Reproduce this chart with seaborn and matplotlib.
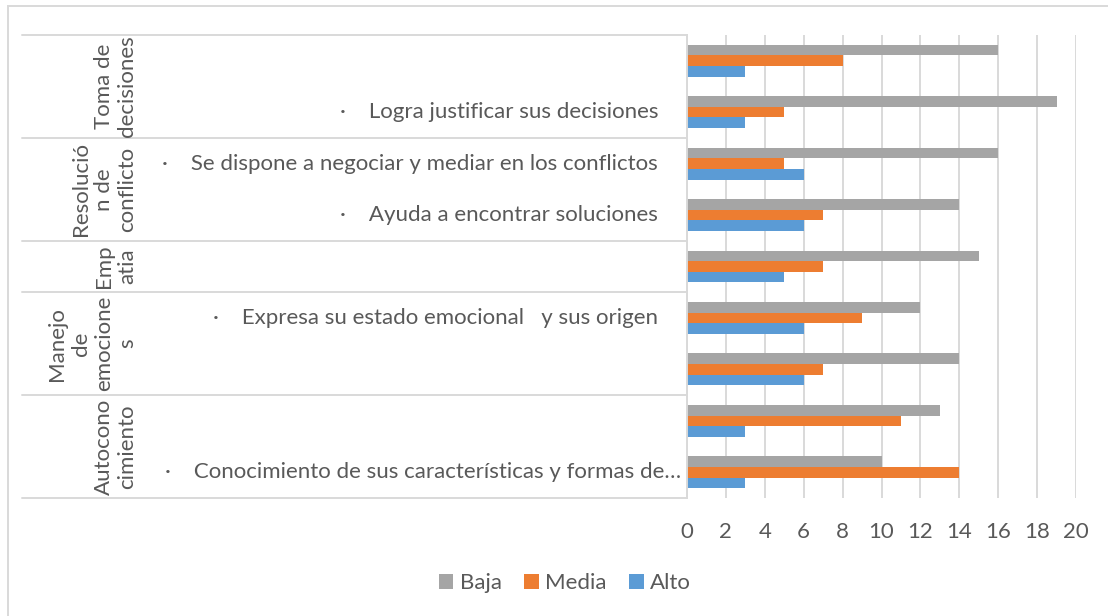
import pandas as pd
import matplotlib.pyplot as plt
import matplotlib.transforms as mtransforms
from matplotlib.patches import Rectangle
import seaborn as sns

# chart data, rows from top to bottom
grupos = ['Toma de decisiones', 'Toma de decisiones',
          'Resolución de conflicto', 'Resolución de conflicto',
          'Empatia',
          'Manejo de emociones', 'Manejo de emociones',
          'Autoconocimiento', 'Autoconocimiento']
items = ['',
         'Logra justificar sus decisiones',
         'Se dispone a negociar y mediar en los conflictos',
         'Ayuda a encontrar soluciones',
         '',
         'Expresa su estado emocional   y sus origen',
         '',
         '',
         'Conocimiento de sus características y formas de…']
baja = [16, 19, 16, 14, 15, 12, 14, 13, 10]
media = [8, 5, 5, 7, 7, 9, 7, 11, 14]
alto = [3, 3, 6, 6, 5, 6, 6, 3, 3]
series = ['Baja', 'Media', 'Alto']
colores = ['#A5A5A5', '#ED7D31', '#5B9BD5']

# rotated group labels, split the way the original wraps them
grupo_labels = [('Toma de\ndecisiones', 0, 1),
                ('Resolució\nn de\nconflicto', 2, 3),
                ('Emp\natia', 4, 4),
                ('Manejo\nde\nemocione\ns', 5, 6),
                ('Autocono\ncimiento', 7, 8)]
xticks = list(range(0, 21, 2))

filas = [f'{i}' for i in range(len(items))]
df = pd.DataFrame({'fila': filas * 3,
                   'valor': baja + media + alto,
                   'serie': [s for s in series for _ in filas]})

sns.set_style('white')
plt.rcParams['font.family'] = ['Lato', 'DejaVu Sans']
gris_txt = '#595959'
gris_lin = '#D9D9D9'
fs = 16

W, H = 1108, 616
fig = plt.figure(figsize=(W / 100, H / 100), dpi=100)
x0, x1, ytop, ybot = 687, 1076, 35, 498
ax = fig.add_axes([x0 / W, 1 - ybot / H, (x1 - x0) / W, (ybot - ytop) / H])

sns.barplot(data=df, y='fila', x='valor', hue='serie', order=filas,
            hue_order=series, palette=colores, saturation=1, orient='h',
            width=0.62, gap=0, edgecolor='none', ax=ax)

ax.set_xlim(0, 20)
ax.set_ylim(len(filas) - 0.5, -0.5)
ax.set_xticks(xticks)
ax.set_xticklabels([str(t) for t in xticks], fontsize=fs, color=gris_txt)
ax.tick_params(axis='x', length=0, pad=17)
ax.set_yticks([])
ax.set_xlabel('')
ax.set_ylabel('')
ax.xaxis.grid(True, color=gris_lin, linewidth=1.4)
ax.set_axisbelow(True)
for s in ['top', 'right', 'bottom']:
    ax.spines[s].set_visible(False)
ax.spines['left'].set_color(gris_lin)
ax.spines['left'].set_linewidth(1.4)

# label table on the left
trans = mtransforms.blended_transform_factory(ax.transAxes, ax.transData)
px = 1.0 / (x1 - x0)
for b in [-0.5, 1.5, 3.5, 4.5, 6.5, 8.5]:
    ax.plot([(22 - x0) * px, 0], [b, b], transform=trans, color=gris_lin,
            linewidth=1.4, clip_on=False)

for i, txt in enumerate(items):
    if txt:
        xr = 681 if txt.endswith('…') else 658
        ax.text((xr - x0) * px, i, '·    ' + txt, transform=trans,
                ha='right', va='center', fontsize=fs, color=gris_txt)

for txt, a, b in grupo_labels:
    ax.text((137 - x0) * px, (a + b) / 2, txt, transform=trans, rotation=90,
            ha='right', va='center', multialignment='center', linespacing=1.2,
            fontsize=fs, color=gris_txt)

leg = ax.legend(loc='center', bbox_to_anchor=(565 / W, 1 - 583 / H),
                bbox_transform=fig.transFigure, ncol=3, frameon=False,
                fontsize=fs, handlelength=0.65, handleheight=0.65,
                handletextpad=0.3, columnspacing=1.0)
for t in leg.get_texts():
    t.set_color(gris_txt)

# chart area border (only top and left edges fall inside the image)
fig.add_artist(Rectangle((8 / W, -0.05), 1.1, 1.05 - 6 / H, transform=fig.transFigure,
                         fill=False, edgecolor=gris_lin, linewidth=1.4))

fig.savefig('out.png', dpi=100)
